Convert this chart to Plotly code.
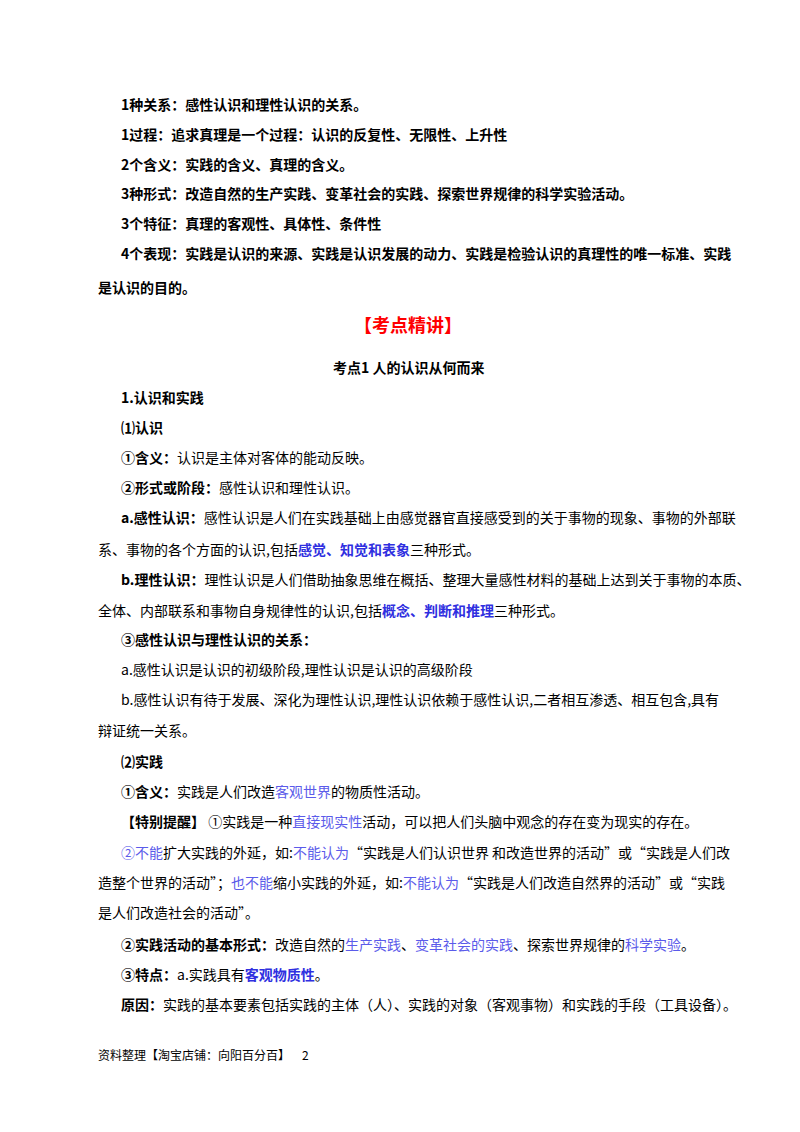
import plotly.graph_objects as go

B = "#2f2fe0"   # bold blue
L = "#5b5bea"   # light blue

def b(t):
    return "<b>" + t + "</b>"

def blue(t, bold=False):
    s = "<span style='color:%s'>%s</span>" % (B if bold else L, t)
    return b(s) if bold else s

line_x = [121, 121, 121, 121, 121, 121, 98,
          121, 121, 121, 121, 121, 98, 121, 98, 121, 121, 121, 98,
          121, 121, 121, 121, 98, 98, 121, 121, 121]
line_y = [105, 135, 165, 194, 224, 254, 288,
          398, 428, 458, 488, 518, 550, 580, 611, 640, 670, 700, 731,
          762, 792, 822, 853, 883, 913, 945, 975, 1005]
line_text = [
    b("1种关系：感性认识和理性认识的关系。"),
    b("1过程：追求真理是一个过程：认识的反复性、无限性、上升性"),
    b("2个含义：实践的含义、真理的含义。"),
    b("3种形式：改造自然的生产实践、变革社会的实践、探索世界规律的科学实验活动。"),
    b("3个特征：真理的客观性、具体性、条件性"),
    b("4个表现：实践是认识的来源、实践是认识发展的动力、实践是检验认识的真理性的唯一标准、实践"),
    b("是认识的目的。"),
    b("1.认识和实践"),
    b("⑴认识"),
    b("①含义：") + "认识是主体对客体的能动反映。",
    b("②形式或阶段：") + "感性认识和理性认识。",
    b("a.感性认识：") + "感性认识是人们在实践基础上由感觉器官直接感受到的关于事物的现象、事物的外部联",
    "系、事物的各个方面的认识,包括" + blue("感觉、知觉和表象", True) + "三种形式。",
    b("b.理性认识：") + "理性认识是人们借助抽象思维在概括、整理大量感性材料的基础上达到关于事物的本质、",
    "全体、内部联系和事物自身规律性的认识,包括" + blue("概念、判断和推理", True) + "三种形式。",
    b("③感性认识与理性认识的关系："),
    "a.感性认识是认识的初级阶段,理性认识是认识的高级阶段",
    "b.感性认识有待于发展、深化为理性认识,理性认识依赖于感性认识,二者相互渗透、相互包含,具有",
    "辩证统一关系。",
    b("⑵实践"),
    b("①含义：") + "实践是人们改造" + blue("客观世界") + "的物质性活动。",
    b("【特别提醒】") + " ①实践是一种" + blue("直接现实性") + "活动，可以把人们头脑中观念的存在变为现实的存在。",
    blue("②不能") + "扩大实践的外延，如:" + blue("不能认为") + "“实践是人们认识世界 和改造世界的活动”或“实践是人们改",
    "造整个世界的活动”；" + blue("也不能") + "缩小实践的外延，如:" + blue("不能认为") + "“实践是人们改造自然界的活动”或“实践",
    "是人们改造社会的活动”。",
    b("②实践活动的基本形式：") + "改造自然的" + blue("生产实践") + "、" + blue("变革社会的实践") + "、探索世界规律的" + blue("科学实验") + "。",
    b("③特点：") + "a.实践具有" + blue("客观物质性", True) + "。",
    b("原因：") + "实践的基本要素包括实践的主体（人）、实践的对象（客观事物）和实践的手段（工具设备）。",
]

centered_text = [
    "<b><span style='color:#ff0000'>【考点精讲】</span></b>",
    b("考点1 人的认识从何而来"),
]
centered_y = [325, 368]
centered_size = [18, 14]

footer_text = ["资料整理【淘宝店铺：向阳百分百】", "2"]
footer_x = [98, 302]
footer_y = [1055, 1055]

# small correction for where annotations actually land on the page
DX, DY = -10, -9

fig = go.Figure()
ann = []
for x, y, t in zip(line_x, line_y, line_text):
    ann.append(dict(x=x + DX, y=y + DY, text=t, xanchor="left", yanchor="middle",
                    showarrow=False, font=dict(size=14, color="#000000")))
for y, t, s in zip(centered_y, centered_text, centered_size):
    ann.append(dict(x=400, y=y + DY, text=t, xanchor="center", yanchor="middle",
                    showarrow=False, font=dict(size=s, color="#000000")))
for x, y, t in zip(footer_x, footer_y, footer_text):
    ann.append(dict(x=x + DX, y=y + DY, text=t, xanchor="left", yanchor="middle",
                    showarrow=False, font=dict(size=12, color="#000000")))

fig.update_layout(
    width=800, height=1132, margin=dict(l=0, r=0, t=0, b=0),
    paper_bgcolor="white", plot_bgcolor="white",
    font=dict(family="Noto Sans CJK SC"),
    xaxis=dict(range=[0, 800], visible=False, fixedrange=True),
    yaxis=dict(range=[1132, 0], visible=False, fixedrange=True),
    annotations=ann, showlegend=False,
)
fig.write_html("out.html")
